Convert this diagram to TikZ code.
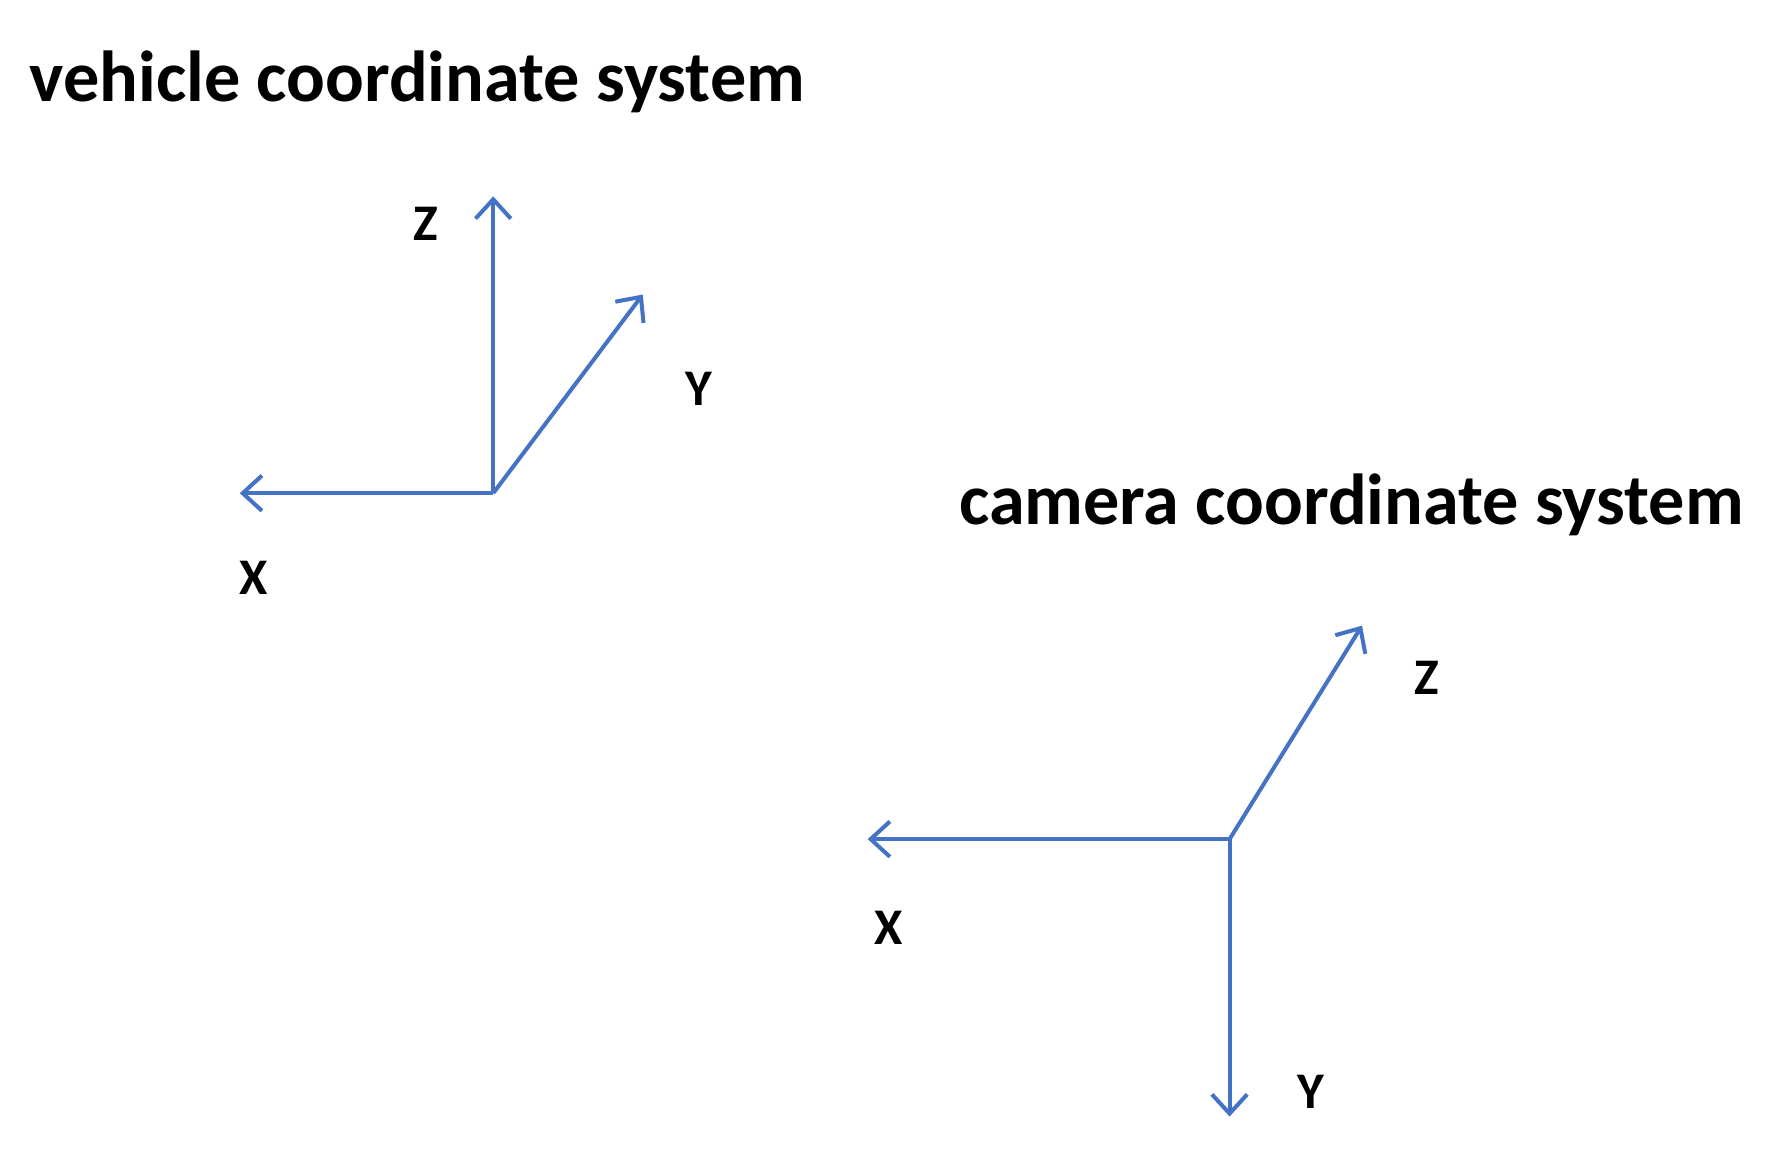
\documentclass[tikz,border=0pt]{standalone}
\usepackage{fontspec}
\setmainfont{Carlito}
\usetikzlibrary{arrows.meta}
\definecolor{axblue}{RGB}{68,114,196}
\begin{document}
\begin{tikzpicture}[x=0.05cm,y=-0.05cm,
  ax/.style={draw=axblue,line width=5pt,-{Straight Barb[length=24pt,width=44pt,line width=5pt]}},
  lbl/.style={font=\fontsize{64}{64}\selectfont\bfseries,inner sep=0pt},
  ttl/.style={font=\fontsize{90}{90}\selectfont\bfseries,inner sep=0pt,anchor=west}]
\useasboundingbox (0,0) rectangle (1560,1018);
\node[ttl] (t1) at (26,72) {vehicle coordinate system};
\coordinate (o1) at (432,432);
\coordinate (z1) at (432,172);
\coordinate (x1) at (210,432);
\coordinate (y1) at (563,258);
\draw[ax] (o1) -- (z1);
\draw[ax] (o1) -- (x1);
\draw[ax] (o1) -- (y1);
\node[lbl] (lz1) at (373,196) {Z};
\node[lbl] (ly1) at (612,341) {Y};
\node[lbl] (lx1) at (222,506) {X};
\node[ttl] (t2) at (840,442) {camera coordinate system};
\coordinate (o2) at (1077,735);
\coordinate (z2) at (1193,548);
\coordinate (x2) at (760,735);
\coordinate (y2) at (1077,978);
\draw[ax] (o2) -- (z2);
\draw[ax] (o2) -- (x2);
\draw[ax] (o2) -- (y2);
\node[lbl] (lz2) at (1250,594) {Z};
\node[lbl] (lx2) at (778,813) {X};
\node[lbl] (ly2) at (1148,956) {Y};
\end{tikzpicture}
\end{document}
